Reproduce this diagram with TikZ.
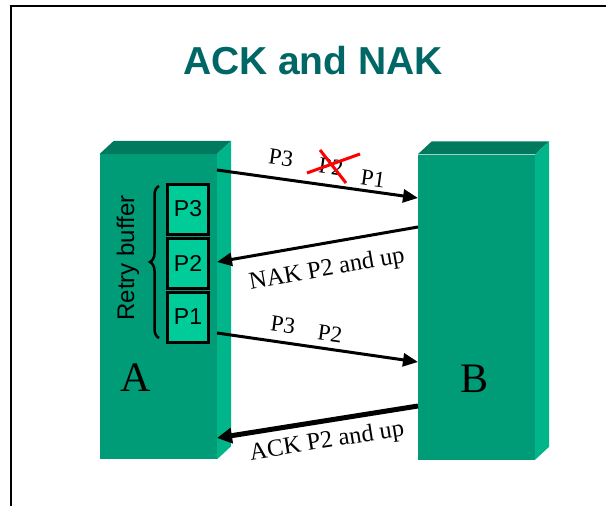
\documentclass[tikz,border=0pt]{standalone}
\usepackage{fontspec}
\setmainfont{Liberation Serif}
\setsansfont{Liberation Sans}
\usetikzlibrary{arrows.meta,decorations.pathreplacing}

\definecolor{slabfront}{RGB}{0,155,119}
\definecolor{slabtop}{RGB}{0,122,94}
\definecolor{slabside}{RGB}{0,181,137}
\definecolor{cellfill}{RGB}{0,204,153}
\definecolor{titleteal}{RGB}{0,102,102}

\tikzset{
  slab/.style={fill=slabfront, draw=none, minimum width=117pt, minimum height=305pt, inner sep=0pt},
  cell/.style={fill=cellfill, draw=black, line width=3pt, minimum width=41pt, minimum height=50pt,
    inner sep=0pt, font=\sffamily\fontsize{23}{23}\selectfont},
  msg/.style={line width=3pt, -{Triangle[length=15pt,width=13pt]}},
  bigmsg/.style={line width=5pt, -{Triangle[length=15pt,width=15pt]}},
  plabel/.style={font=\fontsize{23}{23}\selectfont, inner sep=0pt},
  reply/.style={font=\fontsize{24.5}{24.5}\selectfont, inner sep=0pt},
  endname/.style={font=\fontsize{42}{42}\selectfont, inner sep=0pt},
  cross/.style={draw=red, line width=3pt}
}

\begin{document}
\begin{tikzpicture}[x=1pt,y=-1pt]
\useasboundingbox (0,0) rectangle (606,506);

% frame
\draw[line width=2pt] (11,506) -- (11,6) -- (606,6);

% title
\node[font=\sffamily\bfseries\fontsize{39}{39}\selectfont, text=titleteal] (title) at (313,61) {ACK and NAK};

% the two stations as 3D slabs
\node[slab] (A) at (158.5,306.5) {};
\node[slab] (B) at (476.5,307) {};
\foreach \s in {A,B}{
  \fill[slabtop] (\s.north west) -- ++(14,-13) -- ([shift={(14,-13)}]\s.north east) -- (\s.north east) -- cycle;
  \fill[slabside] (\s.north east) -- ++(14,-13) -- ([shift={(14,-13)}]\s.south east) -- (\s.south east) -- cycle;
}
\node[endname] (la) at (136,378) {A};
\node[endname] (lb) at (475,379) {B};

% retry buffer
\node[cell] (p3) at (188,209) {P3};
\node[cell] (p2) at (188,263) {P2};
\node[cell] (p1) at (188,317) {P1};
\draw[line width=2.5pt, decorate, decoration={brace, amplitude=9pt}] (159,338) -- (159,186);
\node[rotate=90, font=\sffamily\fontsize{24}{24}\selectfont] (rb) at (128,258) {Retry buffer};

% message end points on the slab faces
\coordinate (a1) at (217,170);
\coordinate (b1) at (418,198);
\coordinate (b2) at (418,227);
\coordinate (a2) at (217,262);
\coordinate (a3) at (217,333);
\coordinate (b3) at (418,362);
\coordinate (b4) at (418,406);
\coordinate (a4) at (217,438);

% first transmission, P2 lost
\draw[msg] (a1) -- (b1);
\node[plabel, rotate=-8] (t13) at (281,158) {P3};
\node[plabel, rotate=-8] (t12) at (331,167) {P2};
\node[plabel, rotate=-8] (t11) at (373,179) {P1};
\draw[cross] (307,173) -- (360,154);
\draw[cross] (320,150) -- (346,183);

% NAK
\draw[msg] (b2) -- (a2);
\node[reply, rotate=10] (nak) at (327,270) {NAK P2 and up};

% retransmission
\draw[msg] (a3) -- (b3);
\node[plabel, rotate=-8] (t23) at (283,325) {P3};
\node[plabel, rotate=-8] (t22) at (330,334) {P2};

% ACK
\draw[bigmsg] (b4) -- (a4);
\node[reply, rotate=9] (ack) at (327,442) {ACK P2 and up};
\end{tikzpicture}
\end{document}
